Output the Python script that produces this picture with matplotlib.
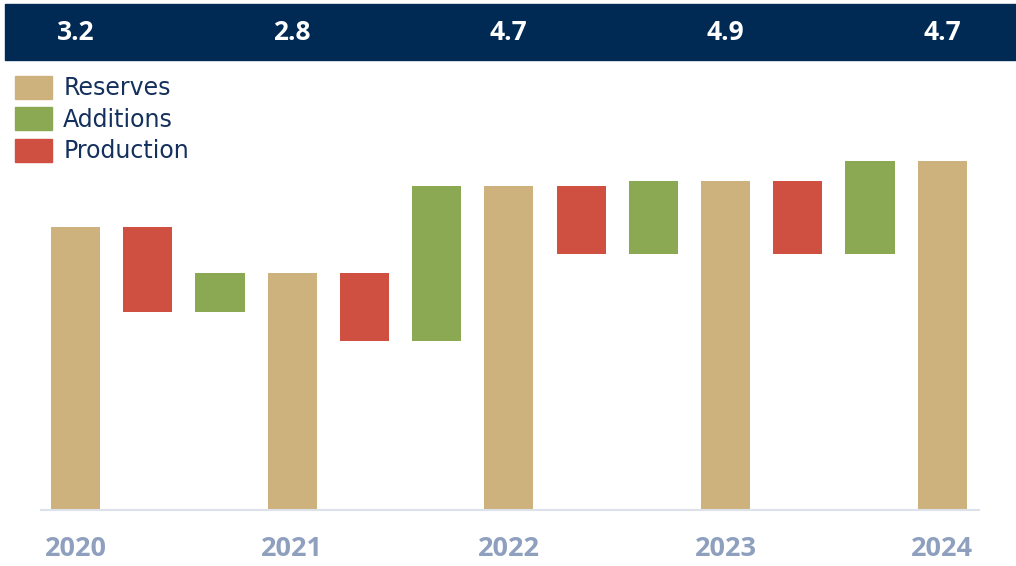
import numpy as np
import matplotlib.pyplot as plt
from matplotlib.patches import Rectangle, Patch
from matplotlib.transforms import blended_transform_factory

years = ['2020', '2021', '2022', '2023', '2024']
band_values = ['3.2', '2.8', '4.7', '4.9', '4.7']
reserves = [28.3, 23.7, 32.4, 32.9, 34.9]
production = [8.5, 6.8, 6.8, 7.3]
additions = [3.9, 15.5, 7.3, 9.3]

c_res = '#CEB27E'
c_add = '#8BA852'
c_prod = '#CF4F41'
navy = '#002A54'

W, H = 1016, 566
fig = plt.figure(figsize=(W / 100, H / 100), dpi=100)
ax = fig.add_axes([41 / W, 56.5 / H, (979 - 41) / W, (509.5 - 60) / H])
ax.patch.set_visible(False)

w = 0.68
# reserves at every third slot, production and additions in between
res_x = np.arange(len(reserves)) * 3
ax.bar(res_x, reserves, width=w, color=c_res)
for i in range(len(production)):
    top = reserves[i]
    low = top - production[i]
    ax.bar(res_x[i] + 1, production[i], bottom=low, width=w, color=c_prod)
    ax.bar(res_x[i] + 2, additions[i], bottom=low, width=w, color=c_add)

ax.set_xlim(-0.478, 12.51)
ax.set_ylim(0, 44.95)
for s in ['top', 'right', 'left']:
    ax.spines[s].set_visible(False)
ax.spines['bottom'].set_color('#DDE2EA')
ax.spines['bottom'].set_linewidth(1.5)
ax.set_yticks([])
ax.set_xticks(res_x)
ax.set_xticklabels(years, fontsize=19.5, fontweight='bold', color='#8FA0BF',
                   fontfamily='Open Sans')
ax.tick_params(axis='x', length=0, pad=19)

# navy band with values
fig.patches.append(Rectangle((5 / W, 1 - 60 / H), 1 - 5 / W, 56 / H,
                             transform=fig.transFigure, color=navy, zorder=-1))
tr = blended_transform_factory(ax.transData, fig.transFigure)
for x, v in zip(res_x, band_values):
    ax.text(x, 1 - 33 / H, v, transform=tr, ha='center', va='center',
            color='white', fontsize=19, fontweight='bold',
            fontfamily='Open Sans', clip_on=False, zorder=5)

handles = [Patch(color=c_res), Patch(color=c_add), Patch(color=c_prod)]
fig.legend(handles, ['Reserves', 'Additions', 'Production'],
           loc='upper left', bbox_to_anchor=(15 / W, 1 - 76 / H),
           frameon=False, fontsize=17, labelcolor='#14305C',
           handlelength=1.57, handleheight=1.1, handletextpad=0.47,
           labelspacing=0.3, borderpad=0, borderaxespad=0)

plt.savefig('out.png', dpi=100)
